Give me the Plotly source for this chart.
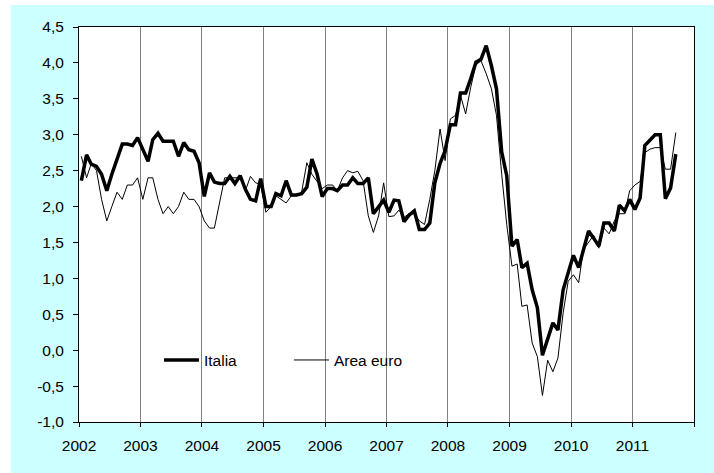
import plotly.graph_objects as go

# Monthly data, Jan 2002 - Sep 2011 (year-on-year % change)
start_year = 2002
italia = [
    2.36, 2.72, 2.59, 2.56, 2.45, 2.22, 2.45, 2.67, 2.87, 2.87, 2.85, 2.96,
    2.80, 2.63, 2.93, 3.02, 2.91, 2.91, 2.91, 2.70, 2.89, 2.79, 2.77, 2.61,
    2.14, 2.47, 2.34, 2.32, 2.32, 2.42, 2.32, 2.43, 2.24, 2.10, 2.08, 2.39,
    2.00, 2.00, 2.18, 2.15, 2.36, 2.16, 2.16, 2.18, 2.27, 2.66, 2.45, 2.14,
    2.25, 2.25, 2.22, 2.30, 2.30, 2.40, 2.32, 2.32, 2.40, 1.90, 2.00, 2.09,
    1.92, 2.09, 2.08, 1.79, 1.88, 1.94, 1.68, 1.68, 1.77, 2.33, 2.60, 2.78,
    3.14, 3.14, 3.58, 3.58, 3.78, 4.01, 4.05, 4.24, 3.96, 3.64, 2.76, 2.43,
    1.45, 1.54, 1.15, 1.21, 0.84, 0.59, -0.07, 0.14, 0.38, 0.28, 0.84, 1.08,
    1.32, 1.15, 1.40, 1.66, 1.56, 1.45, 1.77, 1.77, 1.66, 2.02, 1.94, 2.10,
    1.96, 2.12, 2.85, 2.92, 3.00, 3.00, 2.11, 2.26, 2.73,
]
area_euro = [
    2.70, 2.40, 2.60, 2.50, 2.10, 1.80, 2.00, 2.20, 2.10, 2.30, 2.30, 2.40,
    2.10, 2.40, 2.40, 2.10, 1.90, 2.00, 1.90, 2.00, 2.20, 2.10, 2.10, 2.00,
    1.80, 1.70, 1.70, 2.05, 2.40, 2.40, 2.40, 2.40, 2.22, 2.42, 2.33, 2.31,
    1.92, 2.00, 2.15, 2.10, 2.05, 2.15, 2.15, 2.20, 2.61, 2.45, 2.35, 2.25,
    2.30, 2.30, 2.22, 2.40, 2.50, 2.47, 2.49, 2.36, 1.87, 1.64, 1.87, 2.33,
    1.86, 1.87, 1.95, 1.85, 1.90, 1.90, 1.80, 1.75, 2.10, 2.50, 3.08, 2.64,
    3.22, 3.27, 3.55, 3.29, 3.66, 3.97, 4.03, 3.85, 3.64, 3.27, 2.45, 1.75,
    1.17, 1.20, 0.61, 0.63, 0.10, -0.09, -0.63, -0.14, -0.30, -0.11, 0.52, 0.96,
    1.05, 0.94, 1.40, 1.50, 1.60, 1.42, 1.70, 1.62, 1.80, 1.90, 1.90, 2.22,
    2.30, 2.35, 2.75, 2.80, 2.82, 2.82, 2.52, 2.52, 3.03,
]
series_names = ["Italia", "Area euro"]
year_ticks = list(range(2002, 2013))
year_labels = [str(y) for y in year_ticks[:-1]] + [""]
y_ticks = [-1.0 + 0.5 * k for k in range(12)]
y_labels = [f"{v:.1f}".replace(".", ",") for v in y_ticks]

months = [f"{start_year + i // 12}-{i % 12 + 1:02d}-15" for i in range(len(italia))]
tick_dates = [f"{y}-01-01" for y in year_ticks]

FONT = "Liberation Sans, Arial, sans-serif"
fig = go.Figure()
fig.add_trace(go.Scatter(x=months, y=italia, mode="lines", name=series_names[0],
                         line=dict(color="black", width=3.5)))
fig.add_trace(go.Scatter(x=months, y=area_euro, mode="lines", name=series_names[1],
                         line=dict(color="black", width=1)))

shapes = [
    # cyan chart background
    dict(type="rect", xref="paper", yref="paper", x0=-0.111, x1=1.05, y0=-0.14, y1=1.056,
         fillcolor="#CCFFFF", line=dict(width=0), layer="below"),
    # white plot area
    dict(type="rect", xref="paper", yref="paper", x0=0, x1=1, y0=0, y1=1,
         fillcolor="white", line=dict(width=0), layer="below"),
    # white legend box hiding gridlines
    dict(type="rect", xref="x", yref="y", x0="2002-07-01", x1="2008-08-01", y0=-0.585, y1=0.325,
         fillcolor="white", line=dict(width=0), layer="below"),
]

fig.update_layout(
    width=714, height=473,
    margin=dict(l=79, r=20, t=27, b=51),
    paper_bgcolor="white", plot_bgcolor="white",
    font=dict(family=FONT, size=15.5, color="black"),
    shapes=shapes,
    showlegend=True,
    legend=dict(orientation="h", x=0.13, xanchor="left", y=0.156, yanchor="middle",
                bgcolor="rgba(0,0,0,0)", borderwidth=0, itemwidth=35,
                entrywidth=80, font=dict(family=FONT, size=15.5, color="black"),
                traceorder="normal"),
    xaxis=dict(type="date", range=["2002-01-01", "2012-01-01"],
               tickmode="array", tickvals=tick_dates, ticktext=year_labels,
               showgrid=True, gridcolor="#808080", gridwidth=1,
               showline=True, linecolor="black", linewidth=1, mirror=True,
               ticks="outside", ticklen=4, tickcolor="black", tickwidth=1,
               ticklabelstandoff=5, zeroline=False, fixedrange=True),
    yaxis=dict(range=[-1.0, 4.5], tickmode="array", tickvals=y_ticks, ticktext=y_labels,
               showgrid=False, zeroline=False,
               showline=True, linecolor="black", linewidth=1, mirror=True,
               ticks="outside", ticklen=5, tickcolor="black", tickwidth=1,
               ticklabelstandoff=6, fixedrange=True),
)

fig.write_html("out.html", config={"displayModeBar": False},
               post_script="document.body.style.margin='0';")
